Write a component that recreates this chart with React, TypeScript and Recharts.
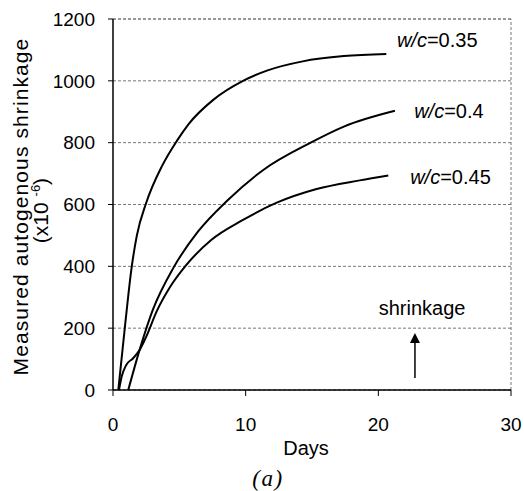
import {
  ComposedChart,
  Line,
  XAxis,
  YAxis,
  CartesianGrid,
  ReferenceLine,
  ReferenceDot,
} from "recharts";

const days035 = [0.4, 0.9, 1.4, 1.8, 2.5, 3.7, 4.8, 5.7, 7.6, 9.8, 11.6, 14.3, 17.4, 20.6];
const vals035 = [0, 205, 395, 500, 605, 725, 805, 860, 940, 1000, 1033, 1063, 1080, 1087];

const days040 = [1.15, 2.0, 3.0, 4.55, 6.4, 8.6, 11.3, 14.9, 17.4, 21.25];
const vals040 = [0, 129, 259, 395, 512, 612, 711, 800, 852, 903];

const days045 = [0.45, 0.65, 1.0, 1.5, 2.0, 2.5, 3.3, 4.3, 5.5, 7.4, 9.8, 12.3, 15.35, 18.6, 20.75];
const vals045 = [0, 43, 81, 102, 129, 172, 255, 333, 403, 485, 550, 605, 650, 678, 694];

const xTicks = [0, 10, 20, 30];
const yTicks = [0, 200, 400, 600, 800, 1000, 1200];

const seriesNames = ["0.35", "0.4", "0.45"];
// label anchors (day, value) for the curve names
const nameDays = [21.4, 22.7, 22.4];
const nameVals = [1132, 902, 689];

const FONT = "'Liberation Sans', Arial, sans-serif";
const GRID = "#777";

const toPoints = (days: number[], vals: number[]) =>
  days.map((d, i) => ({ day: d, value: vals[i] }));

const data035 = toPoints(days035, vals035);
const data040 = toPoints(days040, vals040);
const data045 = toPoints(days045, vals045);

const YTitle = (props: any) => {
  const vb = props.viewBox ?? { x: 0, y: 0, width: 0, height: 0 };
  const cy1 = vb.y + vb.height / 2 + 2;
  const cy2 = vb.y + vb.height / 2 + 6;
  const x1 = vb.x + 28;
  const x2 = vb.x + 48;
  return (
    <g fill="#000" fontFamily={FONT} fontSize={21}>
      <text
        x={x1}
        y={cy1}
        textAnchor="middle"
        letterSpacing={1.1}
        transform={`rotate(-90, ${x1}, ${cy1})`}
      >
        Measured autogenous shrinkage
      </text>
      <text x={x2} y={cy2} textAnchor="middle" transform={`rotate(-90, ${x2}, ${cy2})`}>
        (x10{" "}
        <tspan dy={-8} fontSize={13}>
          -6
        </tspan>
        <tspan dy={8}>)</tspan>
      </text>
    </g>
  );
};

const XTitle = (props: any) => {
  const vb = props.viewBox ?? { x: 0, y: 0, width: 0, height: 0 };
  const cx = vb.x + vb.width / 2;
  return (
    <g fill="#000">
      <text x={cx - 6} y={vb.y + 65} textAnchor="middle" fontFamily={FONT} fontSize={20}>
        Days
      </text>
      <text
        x={cx - 44}
        y={vb.y + 96}
        textAnchor="middle"
        fontFamily="'Liberation Serif', 'Times New Roman', serif"
        fontStyle="italic"
        fontSize={23}
        letterSpacing={1.5}
      >
        (a)
      </text>
    </g>
  );
};

const nameShape = (name: string) => (p: any) =>
  (
    <text x={p.cx} y={p.cy} dy="0.35em" fontFamily={FONT} fontSize={20} fill="#000">
      <tspan fontStyle="italic">w/c</tspan>
      <tspan>={name}</tspan>
    </text>
  );

const textShape = (p: any) => (
  <text x={p.cx} y={p.cy} dy="0.35em" textAnchor="middle" fontFamily={FONT} fontSize={20} fill="#000">
    shrinkage
  </text>
);

const arrowHead = (p: any) => (
  <path d={`M${p.cx},${p.cy} L${p.cx - 5},${p.cy + 10} L${p.cx + 5},${p.cy + 10} Z`} fill="#000" />
);

export default function App() {
  return (
    <div style={{ position: "absolute", left: 0, top: 0, width: 524, height: 491, background: "#fff" }}>
      <ComposedChart width={524} height={491} margin={{ top: 19, right: 13, bottom: 0, left: 0 }}>
        <CartesianGrid vertical={false} stroke={GRID} strokeWidth={1} strokeDasharray="3 2" />
        <XAxis
          type="number"
          dataKey="day"
          domain={[0, 30]}
          ticks={xTicks}
          height={101}
          tickSize={6}
          tickMargin={22}
          axisLine={{ stroke: "#000", strokeWidth: 1.5 }}
          tickLine={{ stroke: "#000" }}
          tick={{ fill: "#000", fontSize: 19, fontFamily: FONT }}
          label={<XTitle />}
        />
        <YAxis
          type="number"
          domain={[0, 1200]}
          ticks={yTicks}
          width={113}
          tickSize={5}
          tickMargin={13}
          axisLine={{ stroke: "#000", strokeWidth: 1.5 }}
          tickLine={{ stroke: "#000" }}
          tick={{ fill: "#000", fontSize: 19, fontFamily: FONT }}
          label={<YTitle />}
        />
        <ReferenceLine y={1200} stroke={GRID} strokeDasharray="3 2" ifOverflow="visible" />
        <ReferenceLine x={30} stroke={GRID} strokeDasharray="3 2" ifOverflow="visible" />
        <Line data={data035} dataKey="value" type="monotone" stroke="#000" strokeWidth={2} dot={false} isAnimationActive={false} />
        <Line data={data040} dataKey="value" type="monotone" stroke="#000" strokeWidth={2} dot={false} isAnimationActive={false} />
        <Line data={data045} dataKey="value" type="monotone" stroke="#000" strokeWidth={2} dot={false} isAnimationActive={false} />
        {seriesNames.map((n, i) => (
          <ReferenceDot key={n} x={nameDays[i]} y={nameVals[i]} r={1} shape={nameShape(n)} ifOverflow="visible" />
        ))}
        <ReferenceDot x={23.3} y={265} r={1} shape={textShape} ifOverflow="visible" />
        <ReferenceLine
          segment={[
            { x: 22.76, y: 39 },
            { x: 22.76, y: 178 },
          ]}
          stroke="#000"
          strokeWidth={1.5}
          ifOverflow="visible"
        />
        <ReferenceDot x={22.76} y={184} r={1} shape={arrowHead} ifOverflow="visible" />
      </ComposedChart>
    </div>
  );
}
